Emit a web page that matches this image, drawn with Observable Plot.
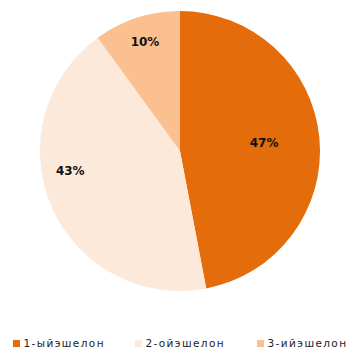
<!DOCTYPE html>
<html><head><meta charset="utf-8">
<script src="https://cdn.jsdelivr.net/npm/d3@7"></script>
<script src="https://cdn.jsdelivr.net/npm/@observablehq/plot@0.6"></script>
<style>body{margin:0;background:#fff;}</style>
</head><body><div id="chart"></div>
<script>
const categories = ["1-ыйэшелон", "2-ойэшелон", "3-ийэшелон"];
const values = [47, 43, 10];
const colors = ["#E46C0A", "#FDE9D9", "#FAC090"];

const W = 357, H = 351, cx = 180, cy = 151, R = 140;
const labelRatio = [0.6, 0.8, 0.82];
const labelAngleShift = [0, 0.23, 0];

const data = categories.map((c, i) => ({category: c, value: values[i], color: colors[i]}));
const arcs = d3.pie().value(d => d.value).sort(null)(data);
const labels = arcs.map((a, i) => {
  const m = (a.startAngle + a.endAngle) / 2 + labelAngleShift[i];
  const r = R * labelRatio[i];
  return {x: cx + r * Math.sin(m), y: cy - r * Math.cos(m), text: a.data.value + "%"};
});
const legendX = [16, 138, 260];
const legend = data.map((d, i) => ({x: legendX[i], y: 343, ...d}));

const arcGen = d3.arc().innerRadius(0).outerRadius(R);
function pieMark(index, scales) {
  const g = d3.create("svg:g").attr("transform", `translate(${scales.x(cx)},${scales.y(cy)})`);
  g.selectAll("path").data(arcs).join("path")
    .attr("d", arcGen).attr("fill", d => scales.color(d.data.category));
  return g.node();
}

const chart = Plot.plot({
  width: W, height: H, margin: 0,
  x: {type: "identity", axis: null}, y: {type: "identity", axis: null},
  color: {domain: categories, range: colors},
  style: {fontFamily: "DejaVu Sans", background: "#fff"},
  marks: [
    pieMark,
    Plot.text(labels, {x: "x", y: "y", text: "text", fontSize: 12, fontWeight: "bold", fill: "#111"}),
    Plot.dot(legend, {x: "x", y: "y", symbol: "square", r: 4, fill: "category", stroke: null}),
    Plot.text(legend, {x: d => d.x + 7, y: "y", text: "category", textAnchor: "start", fontSize: 10.5, fill: "#222",
      render: (i, s, v, d, c, next) => { const g = next(i, s, v, d, c); d3.select(g).selectAll("text").attr("letter-spacing", 1.4); return g; }})
  ]
});
document.getElementById("chart").appendChild(chart);
</script></body></html>
